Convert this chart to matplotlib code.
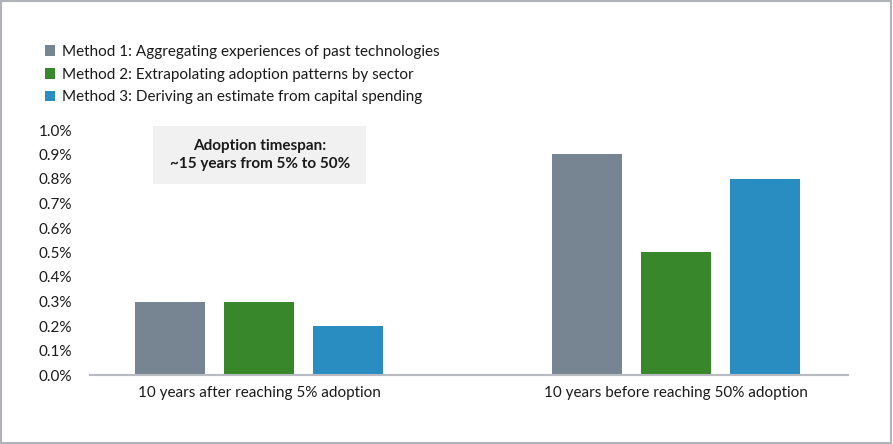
import numpy as np
import matplotlib
matplotlib.use("Agg")
import matplotlib.pyplot as plt
from matplotlib.patches import Rectangle

plt.rcParams['font.family'] = ['Lato', 'DejaVu Sans']

# Data
groups = ['10 years after reaching 5% adoption', '10 years before reaching 50% adoption']
methods = ['Method 1: Aggregating experiences of past technologies',
           'Method 2: Extrapolating adoption patterns by sector',
           'Method 3: Deriving an estimate from capital spending']
method1 = [0.3, 0.9]
method2 = [0.3, 0.5]
method3 = [0.2, 0.8]
yticks = [0.0, 0.1, 0.2, 0.3, 0.4, 0.5, 0.6, 0.7, 0.8, 0.9, 1.0]
colors = ['#778592', '#38872a', '#2a8dc2']

W, H = 893, 444
fig = plt.figure(figsize=(W / 100, H / 100), dpi=100)
ax = fig.add_axes([90 / W, 1 - 375 / H, (848 - 90) / W, (375 - 130) / H])

x = np.arange(len(groups))
step = 89 / 417
width = 70 / 417
for i, (vals, col) in enumerate(zip([method1, method2, method3], colors)):
    ax.bar(x + (i - 1) * step, vals, width, color=col, label=methods[i], zorder=2)

ax.set_xlim(-0.405, 1.412)
ax.set_ylim(0, 1.0)
ax.set_yticks(yticks)
ax.set_yticklabels([f'{v:.1f}%' for v in yticks], fontsize=11, color='#1a1a1a')
ax.set_xticks(x)
ax.set_xticklabels(groups, fontsize=11, color='#1a1a1a')
ax.tick_params(axis='both', length=0)
ax.tick_params(axis='y', pad=13)
ax.tick_params(axis='x', pad=8)
for s in ['top', 'right', 'left']:
    ax.spines[s].set_visible(False)
ax.spines['bottom'].set_color('#b8bcc2')
ax.spines['bottom'].set_linewidth(1.5)

# annotation box
fig.patches.append(Rectangle((153 / W, 1 - 184 / H), (366 - 153) / W, (184 - 126) / H,
                             transform=fig.transFigure, facecolor='#f1f1f1', edgecolor='none'))
fig.text(260 / W, 1 - 155 / H, 'Adoption timespan:\n~15 years from 5% to 50%',
         ha='center', va='center', fontsize=11, fontweight='bold', color='#1a1a1a',
         linespacing=1.4)

# legend
handles, labels = ax.get_legend_handles_labels()
fig.legend(handles, labels, loc='upper left', bbox_to_anchor=(37 / W, 1 - 37 / H),
           frameon=False, fontsize=11, handlelength=0.7, handleheight=0.7,
           handletextpad=0.45, labelspacing=0.58, borderpad=0, labelcolor='#1a1a1a')

# outer border
fig.patches.append(Rectangle((0.001, 0.002), 0.997, 0.996, transform=fig.transFigure,
                             facecolor='none', edgecolor='#b0b4b8', linewidth=1.5))

fig.savefig('out.png', dpi=100)
